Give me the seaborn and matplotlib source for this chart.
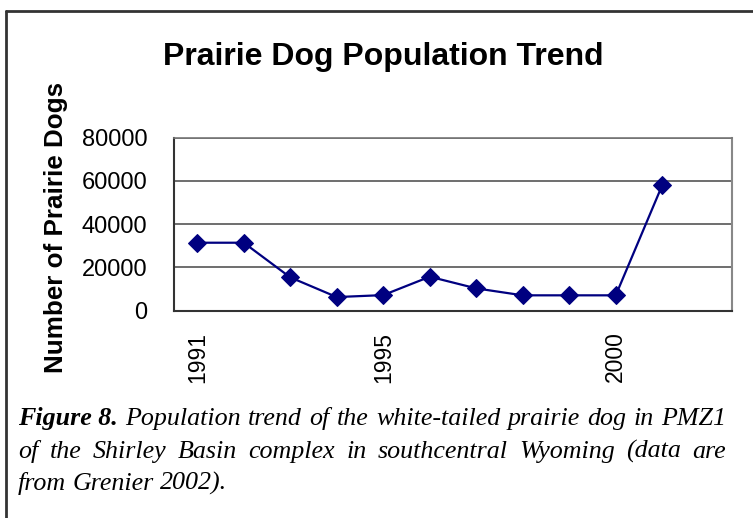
import matplotlib
matplotlib.use("Agg")
import matplotlib.pyplot as plt
from matplotlib.lines import Line2D
import numpy as np
import pandas as pd
import seaborn as sns

# data
years = [1991, 1992, 1993, 1994, 1995, 1996, 1997, 1998, 1999, 2000, 2001]
dogs = [31400, 31400, 15400, 6300, 7200, 15700, 10300, 7100, 7100, 7100, 58000]
all_years = list(range(1991, 2003))
shown_years = [1991, 1995, 2000]
y_ticks = [0, 20000, 40000, 60000, 80000]

caption_lines = [
    [("Figure 8.", True)] + [(w, False) for w in
        "Population trend of the white-tailed prairie dog in PMZ1".split()],
    [(w, False) for w in
        "of the Shirley Basin complex in southcentral Wyoming (data are".split()],
    [(w, False) for w in "from Grenier 2002).".split()],
]

df = pd.DataFrame({"pos": [all_years.index(y) for y in years], "dogs": dogs})

sns.set_style("white")
plt.rcParams['font.family'] = ['Liberation Sans', 'DejaVu Sans']
plt.rcParams['text.color'] = 'black'
plt.rcParams['axes.labelcolor'] = 'black'
plt.rcParams['xtick.labelcolor'] = 'black'
plt.rcParams['ytick.labelcolor'] = 'black'

W, H = 753, 518
fig = plt.figure(figsize=(W / 100, H / 100), dpi=100)
ax = fig.add_axes([174/W, 1 - 310.7/H, (732 - 174)/W, (310.7 - 137.5)/H])

sns.lineplot(x="pos", y="dogs", data=df, ax=ax, color="#000080", marker="D",
             markersize=9, markeredgecolor="#000080", lw=1.6, zorder=3)

ax.set_xlim(-0.5, len(all_years) - 0.5)
ax.set_ylim(0, 80000)
ax.set_yticks(y_ticks)
ax.set_yticklabels([str(v) for v in y_ticks], fontsize=17)
ax.yaxis.grid(True, color="#555555", lw=1.2)
ax.set_axisbelow(True)

# Excel style: tick marks between categories, labels on some categories
ax.set_xticks(np.arange(-0.5, len(all_years)), minor=True)
ax.set_xticks([all_years.index(y) for y in shown_years])
ax.set_xticklabels([str(y) for y in shown_years], rotation=90, fontsize=16.5)
ax.tick_params(axis="x", which="major", length=0, pad=15)
ax.tick_params(axis="x", which="minor", length=7, width=1.2, color="#333333", direction="out")
ax.tick_params(axis="y", length=7, width=1.2, color="#333333", direction="out", pad=12)

for s in ["left", "bottom"]:
    ax.spines[s].set_color("#333333")
    ax.spines[s].set_linewidth(1.5)
ax.spines["right"].set_color("#888888")
ax.spines["right"].set_linewidth(1.5)
ax.spines["top"].set_color("#777777")
ax.spines["top"].set_linewidth(1.2)

ax.set_xlabel("")
ax.set_ylabel("Number of Prairie Dogs", fontsize=18.7, fontweight="bold")
ax.yaxis.set_label_coords((68 - 174) / 558, 0.483)

fig.text(383/W, 1 - 57/H, "Prairie Dog Population Trend", ha="center", va="center",
         fontsize=23, fontweight="bold")

# page frame around the figure
fig.add_artist(Line2D([6/W, 6/W], [0, 1 - 11/H], color="#333333", lw=2))
fig.add_artist(Line2D([6/W, 1], [1 - 11/H, 1 - 11/H], color="#333333", lw=2))

# caption, justified like the printed page
serif = ['Liberation Serif', 'DejaVu Serif']
cap_size = 18.7
x_left, x_right = 18, 726
baselines = [425, 458, 490]
renderer = fig.canvas.get_renderer()
for i, (line, y) in enumerate(zip(caption_lines, baselines)):
    texts = []
    for word, bold in line:
        t = fig.text(0, 1 - y/H, word, fontsize=cap_size, style="italic",
                     fontweight="bold" if bold else "normal", family=serif,
                     va="baseline", ha="left")
        texts.append(t)
    widths = [t.get_window_extent(renderer).width for t in texts]
    if i < len(caption_lines) - 1:
        gap = (x_right - x_left - sum(widths)) / (len(texts) - 1)
    else:
        gap = cap_size * 100 / 72 * 0.25
    x = x_left
    for t, w in zip(texts, widths):
        t.set_x(x / W)
        x += w + gap

fig.savefig("out.png", dpi=100)
